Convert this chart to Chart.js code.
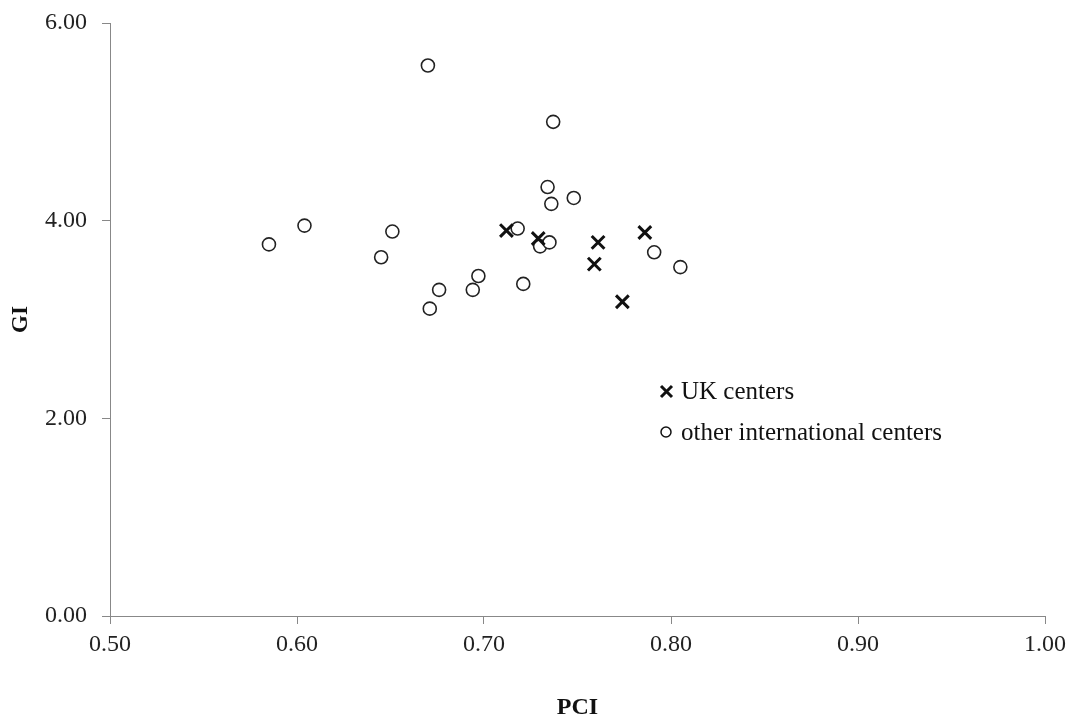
<!DOCTYPE html>
<html>
<head>
<meta charset="utf-8">
<script src="https://cdn.jsdelivr.net/npm/chart.js@4/dist/chart.umd.min.js"></script>
<style>
    html, body { margin: 0; padding: 0; background: #fff; }
    #wrap { width: 1074px; height: 720px; }
</style>
</head>
<body>
<div id="wrap"><canvas id="chart" width="1074" height="720"></canvas></div>
<script>
// UK centers (PCI, GI)
const ukPCI = [0.712, 0.729, 0.761, 0.759, 0.774, 0.786];
const ukGI = [3.90, 3.82, 3.78, 3.56, 3.18, 3.88];

// other international centers (PCI, GI)
const otherPCI = [0.585, 0.604, 0.645, 0.651, 0.670, 0.671, 0.676, 0.694, 0.697, 0.718,
    0.721, 0.730, 0.735, 0.734, 0.736, 0.737, 0.748, 0.791, 0.805];
const otherGI = [3.76, 3.95, 3.63, 3.89, 5.57, 3.11, 3.30, 3.30, 3.44, 3.92,
    3.36, 3.74, 3.78, 4.34, 4.17, 5.00, 4.23, 3.68, 3.53];

const xTicks = [0.5, 0.6, 0.7, 0.8, 0.9, 1.0];
const yTicks = [0, 2, 4, 6];

const seriesNames = ['UK centers', 'other international centers'];

const serif = '"Liberation Serif", "Times New Roman", serif';

function toPoints(xs, ys) {
    return xs.map((x, i) => ({ x: x, y: ys[i] }));
}

// Legend drawn inside the plot, like the original
const insideLegend = {
    id: 'insideLegend',
    afterDraw(chart) {
        const ctx = chart.ctx;
        ctx.save();
        ctx.fillStyle = '#111';
        ctx.font = '25px ' + serif;
        ctx.textBaseline = 'middle';
        ctx.textAlign = 'left';

        // cross marker
        ctx.strokeStyle = '#111';
        ctx.lineWidth = 3;
        ctx.beginPath();
        ctx.moveTo(661, 386); ctx.lineTo(672, 397);
        ctx.moveTo(672, 386); ctx.lineTo(661, 397);
        ctx.stroke();
        ctx.fillText(seriesNames[0], 681, 392);

        // circle marker
        ctx.lineWidth = 1.5;
        ctx.beginPath();
        ctx.arc(666, 432, 5, 0, Math.PI * 2);
        ctx.stroke();
        ctx.fillText(seriesNames[1], 681, 433);
        ctx.restore();
    }
};

new Chart(document.getElementById('chart').getContext('2d'), {
    type: 'scatter',
    data: {
        datasets: [{
            label: seriesNames[0],
            data: toPoints(ukPCI, ukGI),
            pointStyle: 'crossRot',
            pointRadius: 9,
            borderColor: '#111',
            borderWidth: 3,
            backgroundColor: '#111'
        }, {
            label: seriesNames[1],
            data: toPoints(otherPCI, otherGI),
            pointStyle: 'circle',
            pointRadius: 6.5,
            borderColor: '#222',
            borderWidth: 1.6,
            backgroundColor: '#fff'
        }]
    },
    options: {
        responsive: false,
        animation: false,
        layout: {
            padding: { top: 23, right: 29, left: 0, bottom: 0 }
        },
        plugins: {
            legend: { display: false },
            tooltip: { enabled: false }
        },
        scales: {
            x: {
                type: 'linear',
                min: 0.5,
                max: 1.0,
                afterBuildTicks: scale => {
                    scale.ticks = xTicks.map(v => ({ value: v }));
                },
                afterFit: scale => { scale.height = 104; },
                ticks: {
                    color: '#222',
                    padding: 6,
                    font: { family: serif, size: 24 },
                    callback: v => Number(v).toFixed(2)
                },
                grid: {
                    drawOnChartArea: false,
                    tickLength: 8,
                    color: '#888'
                },
                border: { color: '#888', width: 1 },
                title: {
                    display: true,
                    text: 'PCI',
                    color: '#111',
                    font: { family: serif, size: 24, weight: 'bold', lineHeight: 1 },
                    padding: { top: 0, bottom: 0 },
                    align: 'center'
                }
            },
            y: {
                type: 'linear',
                min: 0,
                max: 6,
                afterBuildTicks: scale => {
                    scale.ticks = yTicks.map(v => ({ value: v }));
                },
                afterFit: scale => {
                    scale.width = 110;
                    scale.paddingTop = 0;
                    scale.paddingBottom = 0;
                },
                ticks: {
                    color: '#222',
                    padding: 15,
                    font: { family: serif, size: 24 },
                    callback: v => Number(v).toFixed(2)
                },
                grid: {
                    drawOnChartArea: false,
                    tickLength: 8,
                    color: '#888'
                },
                border: { color: '#888', width: 1 },
                title: {
                    display: true,
                    text: 'GI',
                    color: '#111',
                    font: { family: serif, size: 23, weight: 'bold', lineHeight: 1 },
                    padding: { top: 10, bottom: 0 }
                }
            }
        }
    },
    plugins: [insideLegend]
});
</script>
</body>
</html>
